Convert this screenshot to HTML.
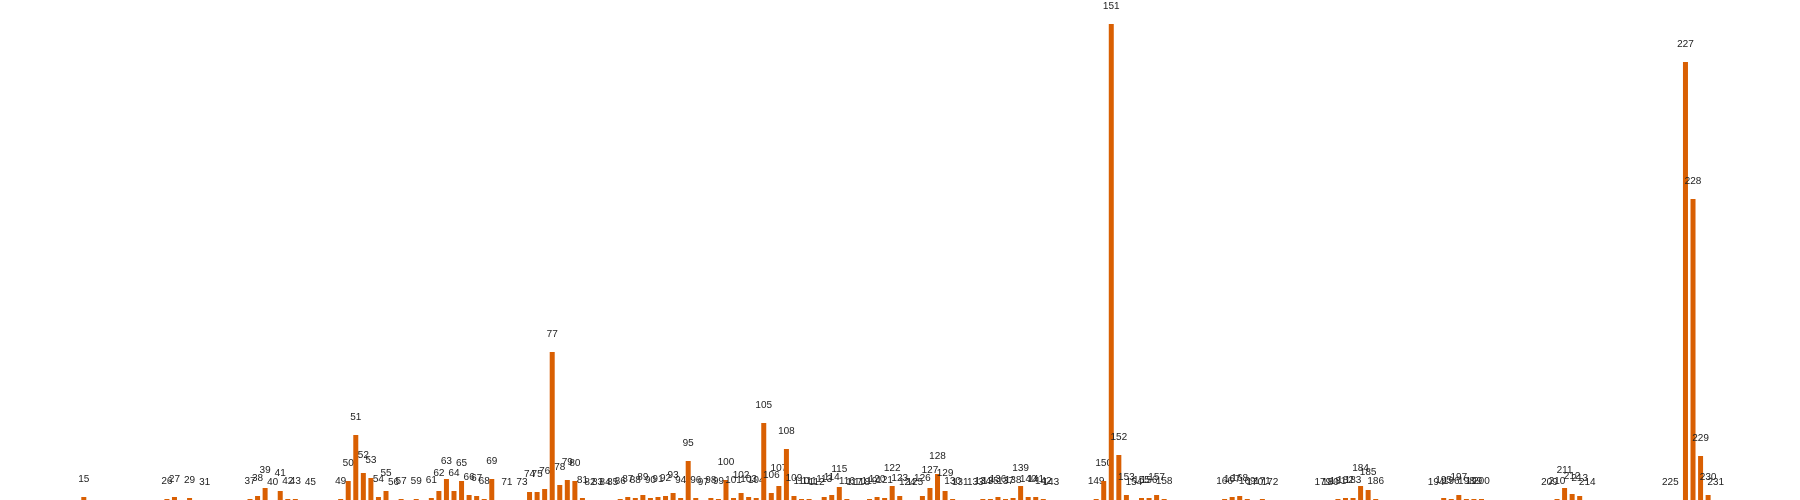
<!DOCTYPE html>
<html><head><meta charset="utf-8"><style>
html,body{margin:0;padding:0;background:#fff;}
svg{display:block;}
text{font-family:"Liberation Sans",sans-serif;font-size:10px;fill:#222;}
</style></head><body>
<svg id="chart" width="1800" height="500" viewBox="0 0 1800 500"></svg>
<script>
const categories=[15,26,27,29,31,37,38,39,40,41,42,43,45,49,50,51,52,53,54,55,56,57,59,61,62,63,64,65,66,67,68,69,71,73,74,75,76,77,78,79,80,81,82,83,84,85,86,87,88,89,90,91,92,93,94,95,96,97,98,99,100,101,102,103,104,105,106,107,108,109,110,111,112,113,114,115,116,117,118,119,120,121,122,123,124,125,126,127,128,129,130,131,133,134,135,136,137,138,139,140,141,142,143,149,150,151,152,153,154,155,156,157,158,166,167,168,169,170,171,172,179,180,181,182,183,184,185,186,194,195,196,197,198,199,200,209,210,211,212,213,214,225,227,228,229,230,231];
const values=[3,1,3,2,0,1,4,12,0,9,1,1,0,1,19,65,27,22,3,9,0,1,1,2,9,21,9,19,5,4,1,21,0,0,8,8,11,148,15,20,19,2,0,0,0,0,1,3,2,5,2,3,4,7,2,39,2,0,2,1,20,2,7,3,2,77,7,14,51,4,1,1,0,3,5,13,1,0,0,1,3,2,14,4,0,0,4,12,26,9,1,0,0,1,1,3,1,2,14,3,3,1,0,1,19,476,45,5,0,2,2,5,1,1,3,4,1,0,1,0,0,0,1,2,2,14,10,1,0,2,1,5,1,1,1,0,1,12,6,4,0,0,438,301,44,5,0];
const svg=document.getElementById('chart');
const NS='http://www.w3.org/2000/svg';
function xScale(c){return 83.8+(c-15)*7.555;}
function yScale(v){return 500-v;}
const barW=5;
categories.forEach((c,i)=>{
  const v=values[i];
  const x=xScale(c);
  if(v>0){
    const r=document.createElementNS(NS,'rect');
    r.setAttribute('x',x-barW/2);
    r.setAttribute('y',yScale(v));
    r.setAttribute('width',barW);
    r.setAttribute('height',500-yScale(v));
    r.setAttribute('fill','#d95f02');
    
    
    svg.appendChild(r);
  }
  const t=document.createElementNS(NS,'text');
  t.setAttribute('x',x);
  t.setAttribute('y',yScale(v)-15);
  t.setAttribute('text-anchor','middle');
  t.textContent=c;
  
  
  svg.appendChild(t);
});
</script>
</body></html>
